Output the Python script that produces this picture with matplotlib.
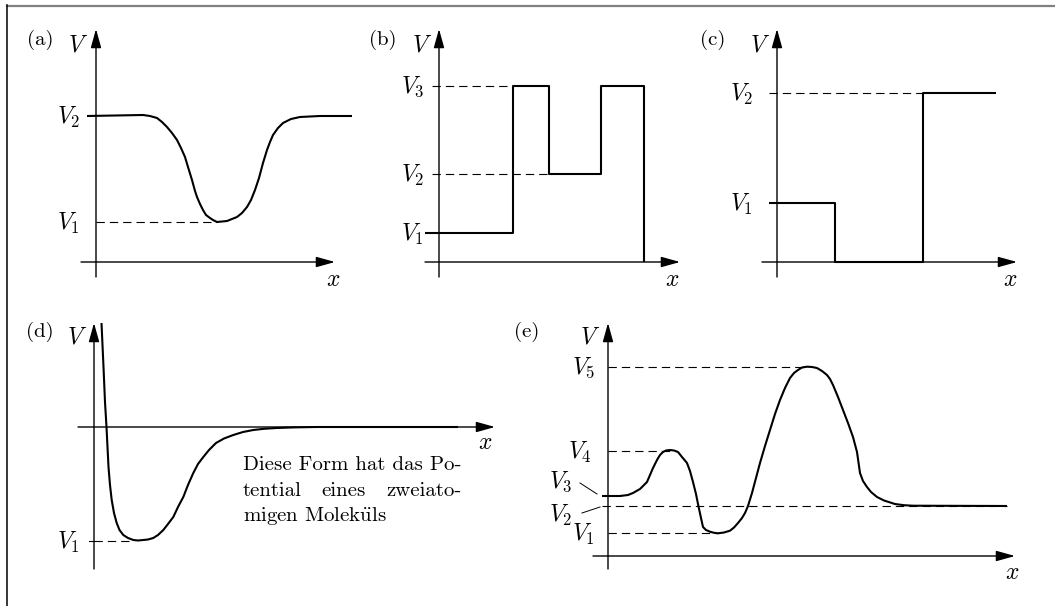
import numpy as np
import matplotlib
matplotlib.use("Agg")
from matplotlib import pyplot as plt
from matplotlib.lines import Line2D

plt.rcParams['font.family'] = ['cmr10', 'DejaVu Serif']
plt.rcParams['mathtext.fontset'] = 'cm'
plt.rcParams['axes.unicode_minus'] = False

W, H = 1055, 606
FS = 15      # plain text
FM = 17      # math labels

# panel (a): smooth well, V1 at bottom, V2 on both sides
a_levels = [40, 146]                      # V1, V2
a_x = [-9, 47, 54, 61, 66, 71, 76, 81, 85, 89, 92, 96, 99, 101, 104, 107, 110, 114, 117, 121,
       126, 131, 136, 141, 146, 151, 155, 159, 163, 167, 171, 174, 177, 182, 187, 195, 204, 224, 256]
a_y = [146, 147, 146, 144, 140, 135, 129, 122, 114, 105, 95, 82, 71, 65, 58, 52, 47, 44, 42, 40,
       40.5, 41, 43, 45, 49, 55, 62, 72, 84, 99, 112, 120, 127, 134, 139, 143, 145, 146, 146]

# panel (b): double step barrier
b_levels = [29, 88, 176]                  # V1, V2, V3
b_x = [-14, 74, 74, 110, 110, 162, 162, 205, 205]
b_y = [29, 29, 176, 176, 88, 88, 176, 176, 0]

# panel (c): step down, step up
c_levels = [59, 169]                      # V1, V2
c_x = [-8, 58, 58, 146, 146, 219]
c_y = [59, 59, 0, 0, 169, 169]

# panel (d): molecular potential
d_level = -114                            # V1
d_x = [7.5, 9.5, 11, 12.5, 14.5, 16, 17.7, 20, 22.7, 25.5, 29.3, 34, 39.3, 44, 49.3, 54, 59.3,
       64, 69.3, 74, 79.3, 84, 89.3, 94, 99.3, 104, 109.3, 115, 122, 130, 139.3, 149, 159.3,
       170, 182.7, 200, 222.7, 272.7, 364]
d_y = [104, 60, 25, 0, -40, -58, -73, -86, -96, -103, -108, -111, -113, -113.5, -113, -112.5, -111,
       -108, -103, -97, -90, -80, -70, -58, -46, -37, -30, -23, -16, -11.5, -8, -5, -3,
       -1.8, -1, -0.4, 0, 0, 0]

# panel (e): two barriers and a well
e_levels = [23, 50, 60, 105, 189]         # V1..V5
e_x = [-6, 12, 20, 25, 32, 39, 45, 49, 52, 55, 58, 62, 66, 70, 74, 79, 82, 85, 88, 90, 93, 95,
       98, 102, 106, 110, 116, 122, 126, 130, 134, 137, 140, 144, 148, 152, 157, 162, 167, 172,
       177, 182, 186, 190, 194, 199, 204, 209, 214, 219, 222, 225, 230, 235, 240, 245, 249, 252,
       255, 259, 263, 269, 276, 287, 296, 305, 399]
e_y = [60, 60, 61, 63, 67, 74, 88, 96, 101, 104, 105.5, 106, 105.5, 104, 99, 93, 85, 74, 62, 52, 38, 29,
       26, 24.3, 23.2, 22.7, 23.5, 25.3, 28.5, 33, 38, 43, 50, 63, 78, 93, 110, 126, 142, 156,
       168, 178, 183, 186, 188.5, 189.3, 189, 188, 185, 181, 177, 171, 159, 146, 133, 119, 104, 83,
       75, 69, 64, 59, 55.5, 52, 50.8, 50.3, 50]

fig = plt.figure(figsize=(W / 100, H / 100), dpi=100)

# frame of the original page
fig.add_artist(Line2D([7 / W, 1], [1 - 5.5 / H, 1 - 5.5 / H], color='#808080', lw=1.6))
fig.add_artist(Line2D([7 / W, 7 / W], [0, 1 - 5 / H], color='black', lw=1.1))


def panel(ox, oy):
    ax = fig.add_axes([0, 0, 1, 1])
    ax.set_xlim(-ox, W - ox)
    ax.set_ylim(oy - H, oy)
    ax.axis('off')
    ax.patch.set_alpha(0)
    return ax


def arrow(ax, x0, y0, x1, y1):
    ax.annotate('', xy=(x1, y1), xytext=(x0, y0),
                arrowprops=dict(arrowstyle='-|>,head_length=1.15,head_width=0.32',
                                mutation_scale=10, lw=1.0, color='k',
                                shrinkA=0, shrinkB=0))


def axes_cross(ax, xmin, xmax, ymin, ymax):
    arrow(ax, xmin, 0, xmax, 0)
    arrow(ax, 0, ymin, 0, ymax)


def dashed(ax, x0, x1, y):
    ax.plot([x0, x1], [y, y], color='k', lw=0.8, ls=(0, (7.5, 4.5)))


def curve(ax, x, y):
    ax.plot(x, y, color='k', lw=1.5, solid_joinstyle='round', solid_capstyle='butt')


def vlabel(ax, x, y, s, ha='right'):
    ax.text(x, y - 1, s, fontsize=FM, ha=ha, va='center')


def corner_labels(ax, vpos, xpos, tag, tpos):
    ax.text(*vpos, r'$V$', fontsize=FM, ha='center', va='center')
    ax.text(*xpos, r'$x$', fontsize=FM, ha='center', va='center')
    ax.text(*tpos, tag, fontsize=FS, ha='center', va='center')


# (a)
ax = panel(96, 262)
axes_cross(ax, -15, 239, -15, 233)
curve(ax, a_x, a_y)
dashed(ax, 0, 121, a_levels[0])
vlabel(ax, -16, a_levels[0], r'$V_1$')
vlabel(ax, -16, a_levels[1], r'$V_2$')
corner_labels(ax, (-18, 217), (237, -18), '(a)', (-56, 222))

# (b)
ax = panel(439, 262)
axes_cross(ax, -14, 241, -15, 233)
curve(ax, b_x, b_y)
dashed(ax, -7, 74, b_levels[2])
dashed(ax, -7, 110, b_levels[1])
for lvl, s in zip(b_levels, [r'$V_1$', r'$V_2$', r'$V_3$']):
    vlabel(ax, -15, lvl, s)
corner_labels(ax, (-17, 217), (233, -18), '(b)', (-56, 222))

# (c)
ax = panel(777, 262)
axes_cross(ax, -15, 240, -15, 233)
curve(ax, c_x, c_y)
dashed(ax, -8, 146, c_levels[1])
vlabel(ax, -24, c_levels[0], r'$V_1$')
vlabel(ax, -24, c_levels[1], r'$V_2$')
corner_labels(ax, (-17, 217), (233, -18), '(c)', (-64, 222))

# (d)
ax = panel(94, 427)
axes_cross(ax, -16, 401, -142, 104)
curve(ax, d_x, d_y)
dashed(ax, 0, 40, d_level)
ax.plot([-5, 0], [d_level, d_level], color='k', lw=0.8)
vlabel(ax, -14, d_level, r'$V_1$')
corner_labels(ax, (-17, 90), (391, -16), '(d)', (-54, 95))
t1 = ax.text(149, -38, 'Diese Form hat das Po-', fontsize=FS, ha='left', va='center')
tw1 = ax.text(149, -64, 'tential', fontsize=FS, ha='left', va='center')
tw3 = ax.text(0, -64, 'zweiato-', fontsize=FS, ha='right', va='center')
tw2 = ax.text(0, -64, 'eines', fontsize=FS, ha='center', va='center')
ax.text(149, -89, r'migen Molek$\ddot{\mathrm{u}}$ls', fontsize=FS, ha='left', va='center')
# justify the middle line to the width of the first line
r = fig.canvas.get_renderer()
inv = ax.transData.inverted()
right = inv.transform((t1.get_window_extent(r).x1, 0))[0]
tw3.set_x(right)
left_gap = inv.transform((tw1.get_window_extent(r).x1, 0))[0]
right_gap = inv.transform((tw3.get_window_extent(r).x0, 0))[0]
tw2.set_x((left_gap + right_gap) / 2)

# (e)
ax = panel(608, 556)
axes_cross(ax, -15, 407, -13, 233)
curve(ax, e_x, e_y)
dashed(ax, 0, 199, e_levels[4])
dashed(ax, 0, 62, e_levels[3])
dashed(ax, -6, 399, e_levels[1])
dashed(ax, 0, 110, e_levels[0])
vlabel(ax, -13, e_levels[0], r'$V_1$')
vlabel(ax, -16, e_levels[3], r'$V_4$')
vlabel(ax, -13, e_levels[4], r'$V_5$')
ax.text(-47, 74, r'$V_3$', fontsize=FM, ha='center', va='center')
ax.text(-47, 41, r'$V_2$', fontsize=FM, ha='center', va='center')
ax.plot([-28, -11], [73, 62], color='k', lw=0.7)
ax.plot([-26, -8], [43, 49], color='k', lw=0.7)
corner_labels(ax, (-18, 219), (404, -17), '(e)', (-81, 224))

fig.savefig('out.png', dpi=100)
